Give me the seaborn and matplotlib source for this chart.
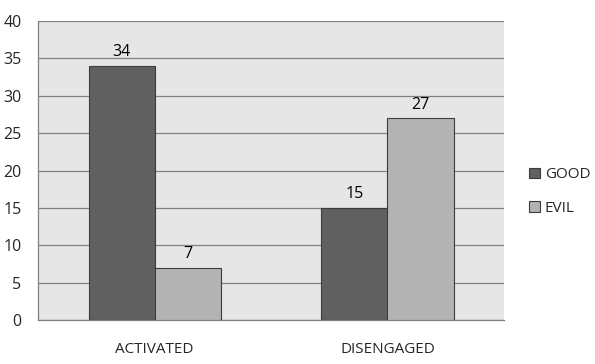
import matplotlib
matplotlib.use("Agg")
import matplotlib.pyplot as plt
import seaborn as sns
import pandas as pd

categories = ["ACTIVATED", "DISENGAGED"]
series = ["GOOD", "EVIL"]
good = [34, 15]
evil = [7, 27]

df = pd.DataFrame({
    "category": categories * 2,
    "series": ["GOOD"] * 2 + ["EVIL"] * 2,
    "value": good + evil,
})

sns.set_style("white")
plt.rcParams["font.family"] = ["Open Sans", "DejaVu Sans"]

fig = plt.figure(figsize=(5.95, 3.64), dpi=100)
ax = fig.add_axes([0.064, 0.121, 0.783, 0.821])
ax.set_facecolor("#e6e6e6")

sns.barplot(data=df, x="category", y="value", hue="series", hue_order=series,
            palette=["#606060", "#b3b3b3"], width=0.567, gap=0,
            edgecolor="#3c3c3c", linewidth=0.8, ax=ax, zorder=3)

for cont in ax.containers:
    ax.bar_label(cont, padding=4, fontsize=11.5, color="black")

ax.set_ylim(0, 40)
ax.set_yticks(range(0, 41, 5))
ax.set_xlim(-0.5, 1.5)
ax.yaxis.grid(True, color="#808080", linewidth=0.9, zorder=0)
ax.set_axisbelow(True)
ax.set_xlabel("")
ax.set_ylabel("")

for s in ["top", "right"]:
    ax.spines[s].set_visible(False)
for s in ["left", "bottom"]:
    ax.spines[s].set_color("#808080")
    ax.spines[s].set_linewidth(0.9)

ax.tick_params(axis="y", length=5, color="#808080", labelsize=11.5, pad=7)
ax.tick_params(axis="x", which="major", length=0, labelsize=11, pad=16)
ax.set_xticks([-0.5, 0.5, 1.5], minor=True)
ax.tick_params(axis="x", which="minor", length=5, color="#808080")

ax.legend(loc="center left", bbox_to_anchor=(1.025, 0.43), frameon=False,
          fontsize=11, handlelength=0.7, handleheight=0.7, labelspacing=1.2,
          handletextpad=0.3)

fig.savefig("out.png", dpi=100)
